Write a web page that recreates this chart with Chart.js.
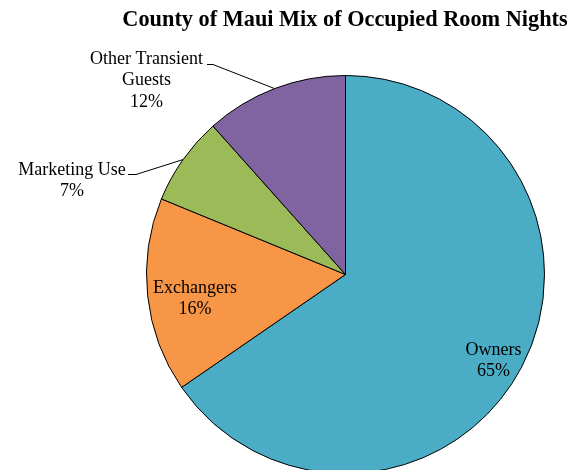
<!DOCTYPE html>
<html>
<head>
<meta charset="utf-8">
<script src="https://cdn.jsdelivr.net/npm/chart.js@4.4.1/dist/chart.umd.min.js"></script>
<style>
  html, body { margin: 0; padding: 0; background: #fff; }
  #wrap { width: 578px; height: 470px; overflow: hidden; position: relative; }
  canvas { display: block; }
</style>
</head>
<body>
<div id="wrap"><canvas id="c" width="578" height="480"></canvas></div>
<script>
// ---- data ----
const categories = ["Owners", "Exchangers", "Marketing Use", "Other Transient Guests"];
const labelLines = [["Owners"], ["Exchangers"], ["Marketing Use"], ["Other Transient", "Guests"]];
const shares = [65.4, 15.8, 7.2, 11.6];
const colors = ["#4BACC6", "#F79646", "#9BBB59", "#8064A2"];
const titleText = "County of Maui Mix of Occupied Room Nights";

// ---- label layout (offsets from pie centre, px) ----
const labelLayout = [
  { dx: 148, dy: 80, leader: null },
  { dx: -150.5, dy: 18, leader: null },
  { dx: -273.5, dy: -100, leader: { elbowDx: -209.5, elbowDy: -100, endDx: -217.5, endDy: -100 } },
  { dx: -199, dy: -211, leader: { elbowDx: -132.5, elbowDy: -210, endDx: -138.5, endDy: -210 } }
];
const lineHeight = 21.5;

const labelPlugin = {
  id: "labels",
  afterDraw(chart) {
    const ctx = chart.ctx;
    const meta = chart.getDatasetMeta(0);
    const total = shares.reduce((a, b) => a + b, 0);
    ctx.save();
    // title
    ctx.fillStyle = "#000";
    ctx.font = "bold 22.3px 'Liberation Serif', 'Times New Roman', serif";
    ctx.textAlign = "center";
    ctx.textBaseline = "alphabetic";
    ctx.fillText(titleText, 345, 26);

    ctx.font = "18px 'Liberation Serif', 'Times New Roman', serif";
    meta.data.forEach((arc, i) => {
      const p = arc.getProps(["x", "y", "startAngle", "endAngle", "outerRadius"], true);
      const cx = p.x, cy = p.y;
      const lay = labelLayout[i];
      const lines = labelLines[i].concat([Math.round(shares[i] / total * 100) + "%"]);
      const bx = cx + lay.dx, by = cy + lay.dy;
      lines.forEach((t, k) => {
        ctx.fillText(t, bx, by + k * lineHeight);
      });
      if (lay.leader) {
        const mid = (p.startAngle + p.endAngle) / 2;
        const ex = cx + Math.cos(mid) * p.outerRadius;
        const ey = cy + Math.sin(mid) * p.outerRadius;
        ctx.strokeStyle = "#000";
        ctx.lineWidth = 1;
        ctx.beginPath();
        ctx.moveTo(cx + lay.leader.endDx, cy + lay.leader.endDy);
        ctx.lineTo(cx + lay.leader.elbowDx, cy + lay.leader.elbowDy);
        ctx.lineTo(ex, ey);
        ctx.stroke();
      }
    });
    ctx.restore();
  }
};

new Chart(document.getElementById("c"), {
  type: "pie",
  data: {
    labels: categories,
    datasets: [{
      data: shares,
      backgroundColor: colors,
      borderColor: "#000",
      borderWidth: 1
    }]
  },
  options: {
    responsive: false,
    animation: false,
    devicePixelRatio: 1,
    layout: { padding: { left: 146, top: 75, right: 33, bottom: 6 } },
    plugins: { legend: { display: false }, tooltip: { enabled: false }, title: { display: false } }
  },
  plugins: [labelPlugin]
});
</script>
</body>
</html>
